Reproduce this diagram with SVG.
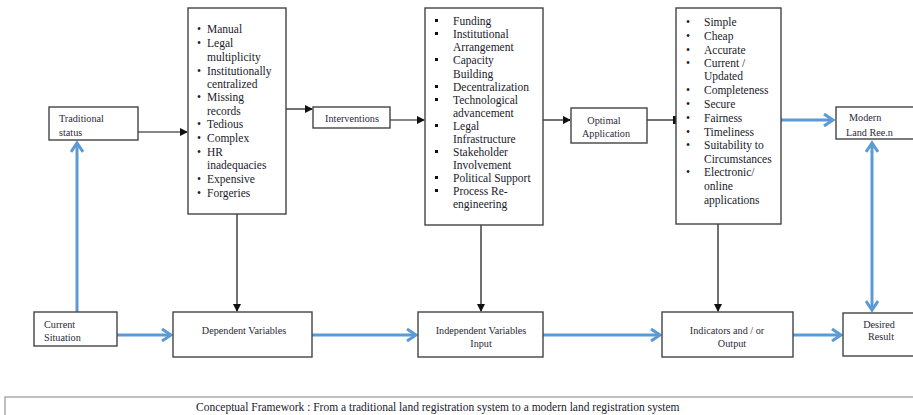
<svg xmlns="http://www.w3.org/2000/svg" width="913" height="415" viewBox="0 0 913 415">
<style>
.box{fill:#fff;stroke:#444;stroke-width:1.4}
.t{font-family:"Liberation Serif","Times New Roman",serif;font-size:11.5px;fill:#1a1a2a}
.s{font-family:"Liberation Serif","Times New Roman",serif;font-size:10.2px;fill:#2a2a3a}
.m{text-anchor:middle}
.blk{stroke:#111;stroke-width:1.2;fill:none}
.blu{stroke:#5b9bd5;stroke-width:3;fill:none}
</style>
<defs>
<marker id="ah" markerWidth="8" markerHeight="8" refX="7" refY="4" orient="auto" markerUnits="userSpaceOnUse"><path d="M0,0 L8,4 L0,8 Z" fill="#111"/></marker>
<marker id="bh" markerWidth="14" markerHeight="14" refX="11" refY="7" orient="auto-start-reverse" markerUnits="userSpaceOnUse"><path d="M2,1 L11,7 L2,13" fill="none" stroke="#5b9bd5" stroke-width="3"/></marker>
</defs>
<rect x="0" y="0" width="913" height="415" fill="#fff"/>
<g id="connectors">
<line class="blk" x1="138" y1="132" x2="187" y2="132" marker-end="url(#ah)"/>
<line class="blk" x1="286" y1="109" x2="312" y2="109" marker-end="url(#ah)"/>
<line class="blk" x1="390" y1="120" x2="424" y2="120" marker-end="url(#ah)"/>
<line class="blk" x1="543" y1="120" x2="570" y2="120" marker-end="url(#ah)"/>
<line class="blk" x1="647" y1="120" x2="675" y2="120"/>
<rect x="673" y="116" width="3" height="8" fill="#111"/>
<line class="blk" x1="237" y1="214" x2="237" y2="311" marker-end="url(#ah)"/>
<line class="blk" x1="481" y1="225" x2="481" y2="311" marker-end="url(#ah)"/>
<line class="blk" x1="718" y1="224" x2="718" y2="311" marker-end="url(#ah)"/>
<line class="blu" x1="781" y1="120" x2="833" y2="120" marker-end="url(#bh)"/>
<line class="blu" x1="77" y1="312" x2="77" y2="143" marker-end="url(#bh)"/>
<line class="blu" x1="872" y1="143" x2="872" y2="310" marker-start="url(#bh)" marker-end="url(#bh)"/>
<line class="blu" x1="117" y1="335" x2="171" y2="335" marker-end="url(#bh)"/>
<line class="blu" x1="312" y1="335" x2="416" y2="335" marker-end="url(#bh)"/>
<line class="blu" x1="543" y1="335" x2="660" y2="335" marker-end="url(#bh)"/>
<line class="blu" x1="793" y1="335" x2="841" y2="335" marker-end="url(#bh)"/>
</g>
<g id="traditional">
<rect class="box" x="49" y="107" width="89" height="33"/>
<text class="s" x="59" y="122">Traditional</text>
<text class="s" x="59" y="136">status</text>
</g>
<g id="problems">
<rect class="box" x="188" y="8" width="98" height="206"/>
<g class="t">
<text x="197" y="33">•</text><text x="207" y="33">Manual</text>
<text x="197" y="47">•</text><text x="207" y="47">Legal</text>
<text x="207" y="61">multiplicity</text>
<text x="197" y="75">•</text><text x="207" y="75">Institutionally</text>
<text x="207" y="88">centralized</text>
<text x="197" y="101">•</text><text x="207" y="101">Missing</text>
<text x="207" y="115">records</text>
<text x="197" y="128">•</text><text x="207" y="128">Tedious</text>
<text x="197" y="142">•</text><text x="207" y="142">Complex</text>
<text x="197" y="156">•</text><text x="207" y="156">HR</text>
<text x="207" y="169">inadequacies</text>
<text x="197" y="183">•</text><text x="207" y="183">Expensive</text>
<text x="197" y="197">•</text><text x="207" y="197">Forgeries</text>
</g>
</g>
<g id="interventions">
<rect class="box" x="313" y="107" width="77" height="21"/>
<text class="s m" x="352" y="122">Interventions</text>
</g>
<g id="measures">
<rect class="box" x="425" y="8" width="118" height="217"/>
<g class="t">
<rect x="435" y="19" width="3" height="3" fill="#111"/><text x="453" y="25">Funding</text>
<rect x="435" y="32" width="3" height="3" fill="#111"/><text x="453" y="38">Institutional</text>
<text x="453" y="51">Arrangement</text>
<rect x="435" y="58" width="3" height="3" fill="#111"/><text x="453" y="64">Capacity</text>
<text x="453" y="78">Building</text>
<rect x="435" y="85" width="3" height="3" fill="#111"/><text x="453" y="91">Decentralization</text>
<rect x="435" y="98" width="3" height="3" fill="#111"/><text x="453" y="104">Technological</text>
<text x="453" y="117">advancement</text>
<rect x="435" y="124" width="3" height="3" fill="#111"/><text x="453" y="130">Legal</text>
<text x="453" y="143">Infrastructure</text>
<rect x="435" y="150" width="3" height="3" fill="#111"/><text x="453" y="156">Stakeholder</text>
<text x="453" y="169">Involvement</text>
<rect x="435" y="176" width="3" height="3" fill="#111"/><text x="453" y="182">Political Support</text>
<rect x="435" y="189" width="3" height="3" fill="#111"/><text x="453" y="195">Process Re-</text>
<text x="453" y="208">engineering</text>
</g>
</g>
<g id="optimal">
<rect class="box" x="571" y="108" width="76" height="35"/>
<text class="s m" x="604" y="124">Optimal</text>
<text class="s m" x="606" y="137">Application</text>
</g>
<g id="qualities">
<rect class="box" x="676" y="8" width="105" height="216"/>
<g class="t">
<text x="686" y="26">•</text><text x="704" y="26">Simple</text>
<text x="686" y="40">•</text><text x="704" y="40">Cheap</text>
<text x="686" y="54">•</text><text x="704" y="54">Accurate</text>
<text x="686" y="67">•</text><text x="704" y="67">Current /</text>
<text x="704" y="80">Updated</text>
<text x="686" y="94">•</text><text x="704" y="94">Completeness</text>
<text x="686" y="108">•</text><text x="704" y="108">Secure</text>
<text x="686" y="122">•</text><text x="704" y="122">Fairness</text>
<text x="686" y="136">•</text><text x="704" y="136">Timeliness</text>
<text x="686" y="149">•</text><text x="704" y="149">Suitability to</text>
<text x="704" y="163">Circumstances</text>
<text x="686" y="176">•</text><text x="704" y="176">Electronic/</text>
<text x="704" y="190">online</text>
<text x="704" y="204">applications</text>
</g>
</g>
<g id="modern">
<rect class="box" x="836" y="107" width="80" height="32"/>
<text class="s" x="849" y="121">Modern</text>
<text class="s" x="846" y="136">Land Ree.n</text>
</g>
<g id="current">
<rect class="box" x="34" y="312" width="83" height="34"/>
<text class="s" x="44" y="328">Current</text>
<text class="s" x="44" y="341">Situation</text>
</g>
<g id="dependent">
<rect class="box" x="173" y="312" width="139" height="45"/>
<text class="s m" x="244" y="334">Dependent Variables</text>
</g>
<g id="independent">
<rect class="box" x="418" y="312" width="125" height="45"/>
<text class="s m" x="481" y="334">Independent Variables</text>
<text class="s m" x="481" y="347">Input</text>
</g>
<g id="indicators">
<rect class="box" x="662" y="312" width="131" height="45"/>
<text class="s m" x="727" y="334">Indicators and / or</text>
<text class="s m" x="732" y="347">Output</text>
</g>
<g id="desired">
<rect class="box" x="843" y="313" width="75" height="43"/>
<text class="s m" x="879" y="328">Desired</text>
<text class="s m" x="881" y="340">Result</text>
</g>
<g id="caption">
<rect x="5" y="397" width="915" height="25" fill="#fff" stroke="#aaa" stroke-width="1.5"/>
<text class="t" x="196" y="411" style="font-size:11.5px">Conceptual Framework : From a traditional land registration system to a modern land registration system</text>
</g>
</svg>
